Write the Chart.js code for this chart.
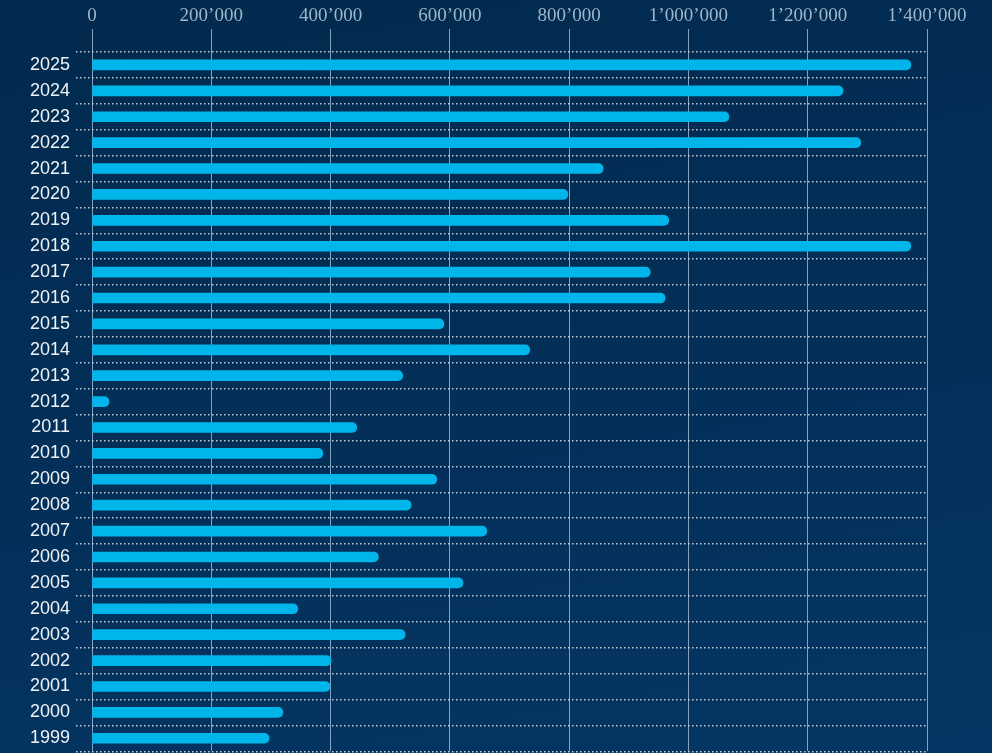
<!DOCTYPE html>
<html>
<head>
<meta charset="utf-8">
<script src="https://cdn.jsdelivr.net/npm/chart.js@4"></script>
<style>
  html, body { margin: 0; padding: 0; }
  body {
    width: 992px; height: 753px; overflow: hidden;
    background: linear-gradient(170deg, #022a4e 0%, #03305a 60%, #053663 100%);
  }
  #wrap { position: relative; width: 992px; height: 768px; }
</style>
</head>
<body>
<div id="wrap"><canvas id="yearChart"></canvas></div>
<script>
// years, newest first
var years = ['2025', '2024', '2023', '2022', '2021', '2020', '2019', '2018', '2017',
             '2016', '2015', '2014', '2013', '2012', '2011', '2010', '2009', '2008',
             '2007', '2006', '2005', '2004', '2003', '2002', '2001', '2000', '1999'];
var amounts = [1373000, 1259000, 1068000, 1289000, 857000, 798000, 967000, 1373000, 936000,
               961000, 590000, 734000, 521000, 28500, 444000, 387000, 578000, 535000,
               662000, 480000, 622000, 345000, 525000, 401000, 399000, 320000, 297000];
var xTicks = [0, 200000, 400000, 600000, 800000, 1000000, 1200000, 1400000];

function fmt(v) {
    return String(v).replace(/\B(?=(\d{3})+(?!\d))/g, '\u2019');
}

document.addEventListener('DOMContentLoaded', function() {
    var ctx = document.getElementById('yearChart').getContext('2d');
    var yearChart = new Chart(ctx, {
        type: 'bar',
        data: {
            labels: years,
            datasets: [{
                data: amounts,
                backgroundColor: '#00b5e9',
                borderRadius: 5,
                borderSkipped: 'start',
                barThickness: 10
            }]
        },
        options: {
            indexAxis: 'y',
            responsive: true,
            maintainAspectRatio: false,
            animation: false,
            layout: { padding: { top: 7, right: 65, bottom: 2, left: 0 } },
            scales: {
                x: {
                    position: 'top',
                    min: 0,
                    max: 1400000,
                    afterBuildTicks: function(s) {
                        s.ticks = xTicks.map(function(v) { return { value: v }; });
                    },
                    afterFit: function(s) { s.height = 45; },
                    border: { display: false },
                    grid: {
                        color: 'rgba(165,190,215,0.8)',
                        lineWidth: 1,
                        tickLength: 23
                    },
                    ticks: {
                        color: '#9db6cb',
                        font: { family: '"Liberation Serif", serif', size: 19 },
                        padding: 2,
                        maxRotation: 0,
                        callback: function(v) { return fmt(v); }
                    }
                },
                y: {
                    afterFit: function(s) { s.width = 92; },
                    border: { display: false, dash: [1.5, 2.5] },
                    grid: {
                        color: 'rgba(220,232,242,0.85)',
                        lineWidth: 1.4,
                        tickBorderDash: [1.5, 2.5],
                        tickLength: 16
                    },
                    ticks: {
                        color: '#eef3f8',
                        font: { family: '"Liberation Sans", Arial, sans-serif', size: 18 },
                        padding: 6
                    }
                }
            },
            plugins: {
                legend: { display: false },
                tooltip: { enabled: false }
            }
        }
    });
});
</script>
</body>
</html>
